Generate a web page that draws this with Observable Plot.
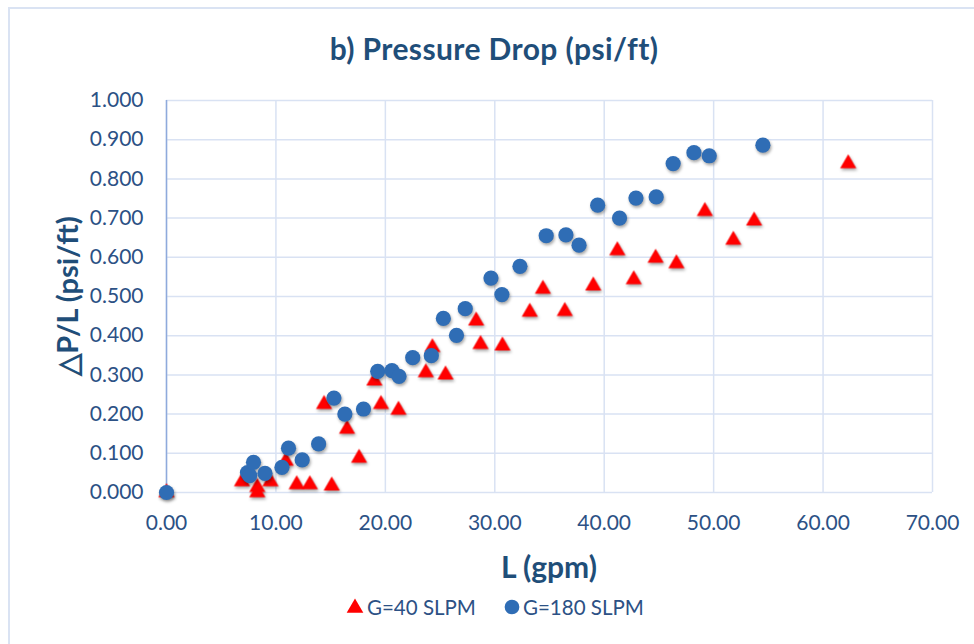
<!DOCTYPE html>
<html>
<head>
<meta charset="utf-8">
<script src="https://cdn.jsdelivr.net/npm/d3@7"></script>
<script src="https://cdn.jsdelivr.net/npm/@observablehq/plot@0.6"></script>
<style>
  html, body { margin: 0; padding: 0; background: #fff; }
  #wrap { position: relative; width: 974px; height: 644px; overflow: hidden; font-family: Lato, "Open Sans", sans-serif; }
  #frame { position: absolute; left: 8px; top: 7px; width: 1000px; height: 700px; border: 2px solid #DAE3F3; box-sizing: border-box; }
  #chart { position: absolute; left: 0; top: 0; }
  #title { position: absolute; left: 494px; top: 48px; transform: translate(-50%, -50%); font-weight: 700; font-size: 30px; letter-spacing: 0.4px; color: #1F4E79; white-space: nowrap; }
  #xtitle { position: absolute; left: 549px; top: 566px; transform: translate(-50%, -50%); font-weight: 700; font-size: 30px; color: #1F4E79; white-space: nowrap; }
  #ytitle { position: absolute; left: 67px; top: 296px; transform: translate(-50%, -50%) rotate(-90deg); font-weight: 700; font-size: 29px; color: #1F4E79; white-space: nowrap; }
  #legend { position: absolute; left: 0; top: 607px; width: 974px; font-size: 20.5px; color: #2C5185; }
  .lg { position: absolute; top: 0; transform: translateY(-50%); white-space: nowrap; }
  .sym { position: absolute; }
  #chart g[aria-label="dot"] { filter: drop-shadow(1px 2px 1.5px rgba(0,0,0,0.35)); }
</style>
</head>
<body>
<div id="wrap">
  <div id="frame"></div>
  <div id="chart"></div>
  <div id="title">b) Pressure Drop (psi/ft)</div>
  <div id="xtitle">L (gpm)</div>
  <div id="ytitle">△P/L (psi/ft)</div>
  <div id="legend"></div>
</div>
<script>
// Series G=40 SLPM (red triangles)
const gpm40 = [0, 6.9, 8.3, 8.3, 9.5, 10.9, 11.9, 13.1, 15.1, 14.4, 16.5, 17.6, 19.0, 19.6, 21.2, 24.3, 23.7, 25.5, 28.3, 28.7, 30.7, 33.2, 34.4, 36.4, 39.0, 41.2, 42.7, 44.7, 46.6, 49.2, 51.8, 53.7, 62.3];
const dp40  = [0, 0.028, 0.013, 0.0, 0.028, 0.08, 0.02, 0.02, 0.017, 0.225, 0.162, 0.088, 0.285, 0.225, 0.21, 0.37, 0.306, 0.30, 0.438, 0.378, 0.374, 0.46, 0.519, 0.462, 0.527, 0.617, 0.543, 0.598, 0.584, 0.717, 0.644, 0.693, 0.839];
// Series G=180 SLPM (blue circles)
const gpm180 = [0, 7.4, 7.6, 7.95, 9.0, 10.55, 11.15, 12.4, 13.9, 15.3, 16.3, 18.0, 19.3, 20.6, 21.25, 22.5, 24.2, 25.3, 26.5, 27.3, 29.65, 30.65, 32.3, 34.7, 36.5, 37.7, 39.4, 41.4, 42.9, 44.75, 46.3, 48.2, 49.6, 54.5];
const dp180  = [0, 0.051, 0.043, 0.077, 0.049, 0.064, 0.113, 0.083, 0.124, 0.241, 0.2, 0.213, 0.309, 0.311, 0.296, 0.344, 0.349, 0.444, 0.401, 0.469, 0.547, 0.505, 0.577, 0.655, 0.657, 0.631, 0.733, 0.7, 0.751, 0.754, 0.839, 0.867, 0.859, 0.886];
// Axis ticks and legend labels
const xTicks = [0, 10, 20, 30, 40, 50, 60, 70];
const yTicks = [0, 0.1, 0.2, 0.3, 0.4, 0.5, 0.6, 0.7, 0.8, 0.9, 1.0];
const seriesNames = ["G=40 SLPM", "G=180 SLPM"];

const s40 = gpm40.map((x, i) => ({x, y: dp40[i]}));
const s180 = gpm180.map((x, i) => ({x, y: dp180[i]}));

const red = "#FF0000", blue = "#2F6DB5";

const plot = Plot.plot({
  width: 974,
  height: 644,
  marginTop: 100,
  marginBottom: 152,
  marginLeft: 166,
  marginRight: 42,
  style: { fontFamily: "Lato, 'Open Sans', sans-serif", fontSize: "21px", color: "#2C5185", background: "transparent", overflow: "visible" },
  x: { domain: [0, 70] },
  y: { domain: [0, 1] },
  marks: [
    Plot.gridX(xTicks, { stroke: "#D9E2F3", strokeOpacity: 1, strokeWidth: 1.5 }),
    Plot.gridY(yTicks, { stroke: "#D9E2F3", strokeOpacity: 1, strokeWidth: 1.5 }),
    Plot.ruleX([0], { stroke: "#8FAADC", strokeWidth: 1.5 }),
    Plot.axisX(xTicks, { tickFormat: d3.format(".2f"), tickSize: 0, tickPadding: 23, label: null }),
    Plot.axisY(yTicks, { tickFormat: d3.format(".3f"), tickSize: 0, tickPadding: 23, label: null }),
    Plot.dot(s40, { x: "x", y: "y", symbol: "triangle", r: 6, fill: red, stroke: "none" }),
    Plot.dot(s180, { x: "x", y: "y", symbol: "circle", r: 7.6, fill: blue, stroke: "none" })
  ]
});
document.getElementById("chart").appendChild(plot);

// Legend
const lg = document.getElementById("legend");
const items = [
  { name: seriesNames[0], sym: "triangle", color: red, sx: 355, tx: 367 },
  { name: seriesNames[1], sym: "circle", color: blue, sx: 512, tx: 523 }
];
for (const it of items) {
  const svg = d3.create("svg").attr("width", 18).attr("height", 18)
    .attr("class", "sym")
    .style("left", (it.sx - 9) + "px").style("top", "-9px");
  const path = d3.symbol(it.sym === "triangle" ? d3.symbolTriangle : d3.symbolCircle, it.sym === "triangle" ? 120 : 170)();
  svg.append("path").attr("d", path).attr("transform", it.sym === "triangle" ? "translate(9,10)" : "translate(9,9)").attr("fill", it.color);
  lg.appendChild(svg.node());
  const t = document.createElement("div");
  t.className = "lg";
  t.style.left = it.tx + "px";
  t.textContent = it.name;
  lg.appendChild(t);
}
</script>
</body>
</html>
